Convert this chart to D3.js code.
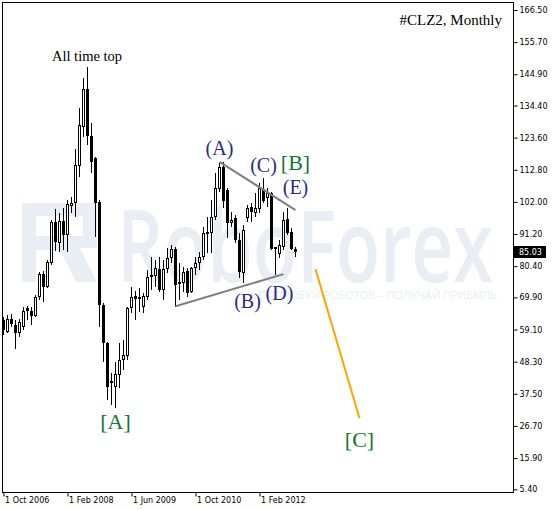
<!DOCTYPE html>
<html>
<head>
<meta charset="utf-8">
<script src="https://cdn.jsdelivr.net/npm/d3@7"></script>
<style>
  body { margin: 0; background: #fff; }
  svg { display: block; }
</style>
</head>
<body>
<div id="chart"></div>
<script>
// monthly candles, Oct 2006 .. Nov 2012
const startMonth = new Date(2006, 9, 1);
const months = d3.timeMonth.range(startMonth, new Date(2012, 11, 1));

const opens = [62.24, 58.20, 62.57, 60.56, 57.87, 59.89, 66.28, 65.27, 63.59, 69.98,
    77.71, 73.34, 81.41, 95.20, 88.14, 95.54, 90.83, 100.58, 101.59, 114.03,
    127.15, 139.93, 124.12, 116.72, 101.93, 67.29, 54.51, 41.73, 39.71, 43.75,
    48.79, 50.13, 66.28, 70.31, 69.98, 66.62, 69.98, 76.70, 77.04, 79.39,
    72.33, 79.39, 83.10, 86.12, 74.35, 74.69, 78.72, 71.66, 79.73, 81.41,
    83.43, 91.17, 91.50, 96.88, 106.30, 113.70, 105.96, 94.86, 96.55, 89.15,
    78.05, 96.55, 100.25, 98.23, 99.57, 106.30, 103.27, 104.95, 86.80, 84.44,
    86.80, 96.21, 91.84, 86.12];
const highs = [63.25, 63.92, 64.26, 62.24, 62.57, 66.62, 66.95, 66.62, 70.65, 78.38,
    78.72, 82.42, 95.87, 99.57, 98.23, 99.91, 102.60, 103.61, 119.75, 133.54,
    143.63, 147.33, 128.49, 117.06, 102.60, 67.96, 54.84, 44.42, 48.12, 54.51,
    55.52, 66.62, 73.34, 71.99, 73.00, 71.32, 79.06, 83.43, 82.42, 83.43,
    82.42, 86.46, 87.47, 86.80, 81.41, 80.07, 79.73, 80.07, 83.43, 85.11,
    93.52, 96.88, 102.60, 111.68, 115.04, 115.38, 106.64, 98.57, 97.55, 91.50,
    94.19, 100.92, 101.59, 104.95, 108.32, 110.00, 106.64, 105.29, 86.80, 89.15,
    98.57, 99.91, 93.18, 86.80];
const lows = [57.20, 57.87, 59.89, 52.49, 56.53, 58.87, 62.24, 60.56, 63.25, 68.97,
    68.30, 73.00, 80.80, 85.45, 85.11, 85.79, 85.11, 98.23, 96.88, 110.33,
    123.79, 121.09, 111.68, 90.15, 59.89, 48.12, 35.34, 33.66, 32.65, 39.37,
    45.42, 48.79, 64.60, 62.24, 64.93, 64.60, 68.97, 72.33, 73.34, 71.66,
    68.97, 78.05, 81.41, 66.62, 68.97, 71.66, 69.98, 71.32, 77.38, 79.06,
    82.42, 84.78, 84.78, 95.87, 105.29, 99.91, 89.82, 93.52, 88.14, 76.37,
    74.69, 95.20, 95.20, 96.88, 98.23, 101.59, 100.25, 85.79, 77.38, 83.10,
    85.79, 90.83, 85.79, 83.43];
const closes = [58.87, 62.57, 60.90, 57.87, 61.57, 65.27, 65.27, 63.59, 69.98, 77.71,
    73.34, 81.75, 95.20, 88.48, 95.54, 90.83, 101.26, 101.59, 114.37, 127.82,
    139.93, 124.12, 115.38, 101.59, 67.29, 54.51, 39.71, 41.06, 44.08, 48.79,
    50.47, 66.28, 69.98, 69.31, 69.31, 70.31, 76.70, 77.38, 79.73, 72.33,
    79.39, 83.10, 86.12, 74.01, 75.02, 78.38, 71.32, 79.73, 81.41, 83.43,
    91.50, 91.84, 96.88, 106.64, 113.70, 102.26, 94.86, 95.87, 89.15, 78.38,
    92.51, 99.91, 98.57, 99.91, 106.64, 102.26, 104.95, 86.12, 86.12, 87.47,
    95.87, 91.50, 86.12, 85.03];

const priceTicks = [166.50, 155.70, 144.90, 134.40, 123.60, 112.80, 102.00, 91.20,
    80.40, 69.90, 59.10, 48.30, 37.50, 26.70, 15.90, 5.40];
const dateTicks = [new Date(2006, 9, 1), new Date(2008, 1, 1), new Date(2009, 5, 1),
    new Date(2010, 9, 1), new Date(2012, 1, 1)];
const lastPrice = 85.03;

// wave markup: [date, price]
const upperLine = [[new Date(2011, 3, 1), 115.48], [new Date(2012, 10, 1), 99.24]];
const lowerLine = [[new Date(2010, 4, 1), 66.95], [new Date(2012, 7, 1), 77.71]];
const forecastLine = [[new Date(2013, 3, 1), 79.40], [new Date(2014, 2, 1), 29.28]];

// labels: text, date, price (baseline), kind
const waveLabels = [
    ['(A)', new Date(2011, 3, 1), 117.6, 'minor'],
    ['(C)', new Date(2012, 2, 1), 112.2, 'minor'],
    ['[B]', new Date(2012, 10, 1), 112.6, 'major'],
    ['(E)', new Date(2012, 10, 1), 104.8, 'minor'],
    ['(B)', new Date(2011, 10, 1), 66.3, 'minor'],
    ['(D)', new Date(2012, 6, 1), 69.0, 'minor'],
    ['[A]', new Date(2009, 1, 1), 25.6, 'major'],
    ['[C]', new Date(2014, 2, 1), 19.5, 'major'],
];

const W = 553, H = 510;
const MINOR = '#2a2a86';
const MAJOR = '#127530';
const WM = '#e9edf4';

const monthIdx = d => d3.timeMonth.count(startMonth, d);
const x = d3.scaleLinear().domain([0, 1]).range([3.5, 7.5]);
const y = d3.scaleLinear().domain([5.40, 166.50]).range([489.3, 10]);
const px = v => Math.round(v) + 0.5;

const svg = d3.select('#chart').append('svg')
    .attr('width', W)
    .attr('height', H);

svg.append('rect').attr('width', W).attr('height', H).attr('fill', '#fff');

// watermark
const wm = svg.append('g').attr('fill', WM);
wm.append('path')
    .attr('fill-rule', 'evenodd')
    .attr('d', 'M22,203 H97 V248 H80 L97,282 H76 L60,250 H36 V282 H22 Z M36,216 V236 H83 V216 Z');
wm.append('text')
    .attr('x', 117).attr('y', 282)
    .attr('font-family', 'Open Sans, sans-serif')
    .attr('font-weight', 600)
    .attr('font-size', 100)
    .attr('textLength', 376)
    .attr('lengthAdjust', 'spacingAndGlyphs')
    .text('RoboForex');
wm.append('text')
    .attr('x', 497).attr('y', 299)
    .attr('text-anchor', 'end')
    .attr('font-family', 'Open Sans, sans-serif')
    .attr('font-size', 11)
    .text('ПОПРОБУЙ РОБОТОВ – ПОЛУЧАЙ ПРИБЫЛЬ');

// candles
const candles = months.map((d, i) => ({
    d, o: opens[i], h: highs[i], l: lows[i], c: closes[i],
}));

const cg = svg.append('g');
const cand = cg.selectAll('g.candle')
    .data(candles)
    .enter()
    .append('g')
    .attr('class', 'candle');

cand.append('line')
    .attr('x1', d => x(monthIdx(d.d)))
    .attr('x2', d => x(monthIdx(d.d)))
    .attr('y1', d => Math.round(y(d.h)))
    .attr('y2', d => Math.round(y(d.l)))
    .attr('stroke', '#000')
    .attr('stroke-width', 1);

cand.append('rect')
    .attr('x', d => (d.c >= d.o ? x(monthIdx(d.d)) - 1 : x(monthIdx(d.d)) - 1.5))
    .attr('y', d => (d.c >= d.o ? px(y(d.c)) : Math.round(y(d.o))))
    .attr('width', d => (d.c >= d.o ? 2 : 3))
    .attr('height', d => {
        const hgt = Math.abs(Math.round(y(d.o)) - Math.round(y(d.c)));
        return d.c >= d.o ? Math.max(hgt - 1, 1) : Math.max(hgt, 1);
    })
    .attr('fill', d => (d.c >= d.o ? '#fff' : '#000'))
    .attr('stroke', d => (d.c >= d.o ? '#000' : 'none'))
    .attr('stroke-width', 1);

// markup lines
const line = d3.line()
    .x(p => x(monthIdx(p[0])))
    .y(p => y(p[1]));

svg.append('path').attr('d', line(upperLine))
    .attr('stroke', '#7f7f7f').attr('stroke-width', 2).attr('fill', 'none');
svg.append('path').attr('d', line(lowerLine))
    .attr('stroke', '#7f7f7f').attr('stroke-width', 2).attr('fill', 'none');
svg.append('path').attr('d', line(forecastLine))
    .attr('stroke', '#ffa500').attr('stroke-width', 2).attr('fill', 'none');

// wave labels
svg.append('g').selectAll('text')
    .data(waveLabels)
    .enter()
    .append('text')
    .attr('x', d => x(monthIdx(d[1])))
    .attr('y', d => y(d[2]))
    .attr('text-anchor', 'middle')
    .attr('font-family', 'Liberation Serif, Times New Roman, serif')
    .attr('font-size', d => (d[3] === 'major' ? 22 : 20))
    .attr('fill', d => (d[3] === 'major' ? MAJOR : MINOR))
    .text(d => d[0]);

svg.append('text')
    .attr('x', 87).attr('y', 61)
    .attr('text-anchor', 'middle')
    .attr('font-family', 'Liberation Serif, Times New Roman, serif')
    .attr('font-size', 14.5)
    .text('All time top');

svg.append('text')
    .attr('x', 502).attr('y', 25)
    .attr('text-anchor', 'end')
    .attr('font-family', 'Liberation Serif, Times New Roman, serif')
    .attr('font-size', 15)
    .text('#CLZ2, Monthly');

// frame
svg.append('rect')
    .attr('x', 2.5).attr('y', 2.5)
    .attr('width', 511).attr('height', 490)
    .attr('fill', 'none').attr('stroke', '#000');

// axes
const fmtDate = d3.timeFormat('%-d %b %Y');
const xAxis = svg.append('g')
    .attr('transform', 'translate(0,492.5)')
    .call(d3.axisBottom(x)
        .tickValues(dateTicks.map(monthIdx))
        .tickFormat(i => fmtDate(d3.timeMonth.offset(startMonth, i)))
        .tickSize(4)
        .tickSizeOuter(0));
xAxis.select('.domain').remove();
xAxis.selectAll('text')
    .attr('text-anchor', 'start')
    .attr('x', 1)
    .attr('y', 5)
    .attr('font-family', 'DejaVu Sans, sans-serif')
    .attr('font-size', 8)
    .attr('fill', '#000');

const yAxis = svg.append('g')
    .attr('transform', 'translate(513.5,0)')
    .call(d3.axisRight(y)
        .tickValues(priceTicks)
        .tickFormat(d3.format('.2f'))
        .tickSize(4)
        .tickPadding(2)
        .tickSizeOuter(0));
yAxis.select('.domain').remove();
yAxis.selectAll('text')
    .attr('font-family', 'DejaVu Sans, sans-serif')
    .attr('font-size', 8)
    .attr('fill', '#000');

// last price tag
const ly = y(lastPrice);
svg.append('rect')
    .attr('x', 514).attr('y', Math.round(ly) - 6)
    .attr('width', 32).attr('height', 12)
    .attr('fill', '#000');
svg.append('text')
    .attr('x', 519).attr('y', ly)
    .attr('dy', '0.35em')
    .attr('font-family', 'DejaVu Sans, sans-serif')
    .attr('font-size', 8)
    .attr('fill', '#fff')
    .text(d3.format('.2f')(lastPrice));
</script>
</body>
</html>
